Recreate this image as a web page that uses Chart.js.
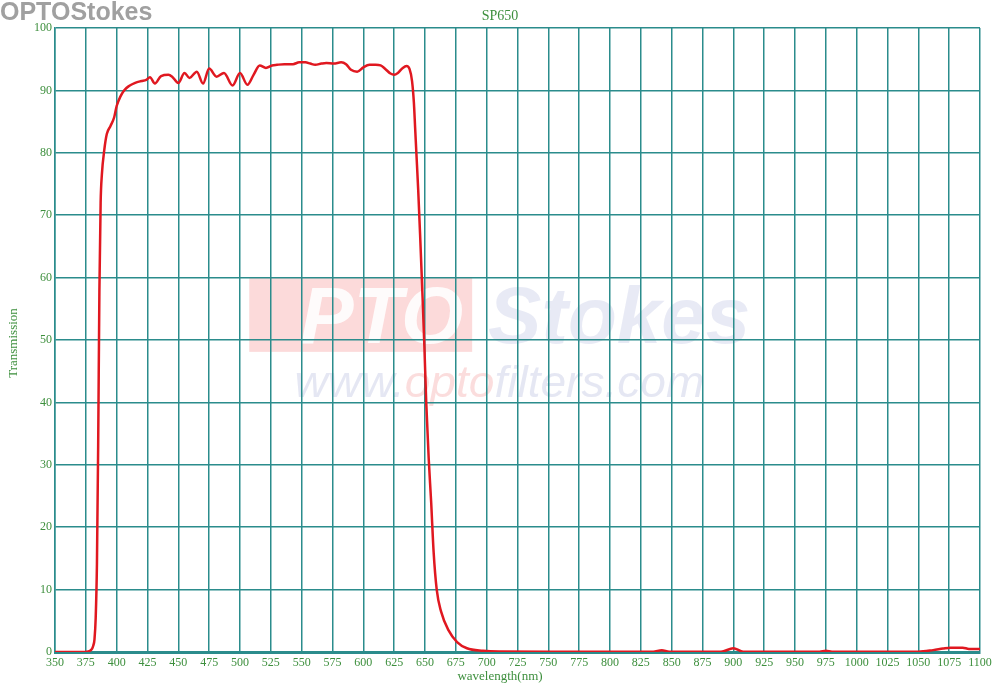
<!DOCTYPE html>
<html>
<head>
<meta charset="utf-8">
<script src="https://cdn.jsdelivr.net/npm/chart.js@4.4.1/dist/chart.umd.min.js"></script>
<style>
  html, body { margin: 0; padding: 0; background: #ffffff; }
  #wrap { position: relative; width: 1000px; height: 687px; }
  #brand { position: absolute; left: 0; top: -3px; font-family: "Liberation Sans", Arial, sans-serif; font-weight: bold; font-size: 25px; color: #a0a0a0; z-index: 2; }
  canvas { position: absolute; left: 0; top: 0; }
</style>
</head>
<body>
<div id="wrap">
  <div id="brand">OPTOStokes</div>
  <canvas id="c" width="1000" height="687"></canvas>
</div>
<script>
const chartTitle = "SP650";
const xTitle = "wavelength(nm)";
const yTitle = "Transmission";
const wavelengths = [350, 360, 370, 377, 380, 381, 382, 383, 384, 385, 386, 387, 388, 390, 392, 395, 398, 400, 403, 406, 410, 415, 420, 424, 427, 431, 436, 442, 445, 450, 455, 459, 465, 470, 475, 481, 487, 494, 500, 506, 511, 516, 521, 526, 530, 536, 543, 548, 553, 557, 561, 566, 570, 576, 582, 586, 590, 595, 600, 605, 610, 614, 618, 622, 625, 628, 632, 635, 637.5, 639.5, 641, 642, 643, 644.5, 646, 648, 649.5, 651, 653, 655, 657, 659.5, 663, 669, 676, 684, 697, 710, 750, 800, 835, 842, 848, 890, 900, 908, 970, 975, 980, 1050, 1062, 1070, 1076, 1086, 1091, 1100];
const transmission = [0, 0, 0, 0.1, 0.5, 1, 2, 5.5, 14, 33, 58, 72, 76.5, 80.5, 83, 84.3, 85.7, 87.5, 89, 90, 90.7, 91.2, 91.5, 91.7, 92.1, 91.1, 92.3, 92.5, 92.2, 91.2, 92.8, 92.0, 93.0, 91.1, 93.5, 92.2, 92.8, 90.8, 92.8, 90.9, 92.5, 94.0, 93.6, 94.0, 94.1, 94.2, 94.2, 94.5, 94.5, 94.3, 94.1, 94.3, 94.4, 94.3, 94.5, 94.2, 93.3, 93.0, 93.7, 94.1, 94.1, 94.0, 93.4, 92.7, 92.5, 92.8, 93.6, 93.9, 93.4, 91.5, 88, 84, 80, 74, 67, 57, 49, 40, 31, 24, 16, 10, 6.5, 3.5, 1.6, 0.6, 0.2, 0.08, 0.05, 0.05, 0.05, 0.3, 0.05, 0.05, 0.6, 0.05, 0.05, 0.2, 0.05, 0.05, 0.3, 0.55, 0.7, 0.7, 0.5, 0.5];
const xMin = 350, xMax = 1100, xStep = 25;
const yMin = 0, yMax = 100, yStep = 10;

const gridColor = "#2b8c8c";
const textColor = "#3d8f3d";
const serif = "'Liberation Serif', 'Times New Roman', serif";

const watermark = {
  id: "watermark",
  beforeDraw(chart) {
    const {ctx, chartArea: a} = chart;
    const W = a.right - a.left, H = a.bottom - a.top;
    ctx.save();
    ctx.fillStyle = "rgba(245,150,150,0.35)";
    ctx.fillRect(a.left + W * 0.210, a.top + H * 0.399, W * 0.241, H * 0.120);
    ctx.font = "italic bold 80px 'Liberation Sans', Arial, sans-serif";
    ctx.textBaseline = "alphabetic";
    ctx.fillStyle = "rgba(255,255,255,0.9)";
    ctx.fillText("PTO", a.left + W * 0.265, a.top + H * 0.505);
    ctx.fillStyle = "rgba(190,195,225,0.35)";
    ctx.fillText("Stokes", a.left + W * 0.468, a.top + H * 0.505);
    // url line, fitted to its span
    const parts = [["www.", "rgba(190,195,225,0.4)"], ["opto", "rgba(245,170,170,0.4)"], ["filters.com", "rgba(190,195,225,0.4)"]];
    ctx.font = "italic 44px 'Liberation Sans', Arial, sans-serif";
    const total = parts.reduce((s, p) => s + ctx.measureText(p[0]).width, 0);
    const x0 = a.left + W * 0.259, span = W * 0.443;
    const k = span / total;
    let x = x0;
    ctx.save();
    ctx.translate(0, a.top + H * 0.592);
    ctx.scale(k, 1);
    parts.forEach(p => {
      ctx.fillStyle = p[1];
      ctx.fillText(p[0], x / k, 0);
      x += ctx.measureText(p[0]).width * k;
    });
    ctx.restore();
    ctx.restore();
  }
};

const titles = {
  id: "titles",
  afterDraw(chart) {
    const {ctx, width, height} = chart;
    ctx.save();
    ctx.fillStyle = textColor;
    ctx.textAlign = "center";
    ctx.textBaseline = "middle";
    ctx.font = "14px " + serif;
    ctx.fillText(chartTitle, width / 2, 16);
    ctx.font = "13px " + serif;
    ctx.fillText(xTitle, width / 2, height - 10);
    ctx.translate(14, (chart.chartArea.top + chart.chartArea.bottom) / 2 + 3);
    ctx.rotate(-Math.PI / 2);
    ctx.fillText(yTitle, 0, 0);
    ctx.restore();
  }
};

new Chart(document.getElementById("c"), {
  type: "line",
  data: {
    datasets: [{
      data: wavelengths.map((w, i) => ({x: w, y: transmission[i]})),
      borderColor: "#e01820",
      borderWidth: 2.5,
      pointRadius: 0,
      fill: false,
      cubicInterpolationMode: "monotone"
    }]
  },
  options: {
    responsive: false,
    animation: false,
    events: [],
    layout: { padding: { left: 0, right: 20, top: 28, bottom: 0 } },
    plugins: {
      legend: { display: false },
      tooltip: { enabled: false },
      title: { display: false }
    },
    scales: {
      x: {
        type: "linear",
        min: xMin, max: xMax,
        afterFit(s) { s.height = 35; },
        ticks: {
          stepSize: xStep,
          color: textColor,
          padding: 4,
          maxRotation: 0,
          autoSkip: false,
          callback: v => String(v),
          font: { family: serif, size: 12 }
        },
        grid: { color: gridColor, lineWidth: 1.5, drawTicks: false },
        border: { color: gridColor, width: 3 }
      },
      y: {
        min: yMin, max: yMax,
        afterFit(s) { s.width = 55; },
        ticks: {
          stepSize: yStep,
          color: textColor,
          padding: 3,
          callback: v => String(v),
          font: { family: serif, size: 12 }
        },
        grid: { color: gridColor, lineWidth: 1.5, drawTicks: false },
        border: { color: gridColor, width: 1.5 }
      }
    }
  },
  plugins: [watermark, titles]
});
</script>
</body>
</html>
